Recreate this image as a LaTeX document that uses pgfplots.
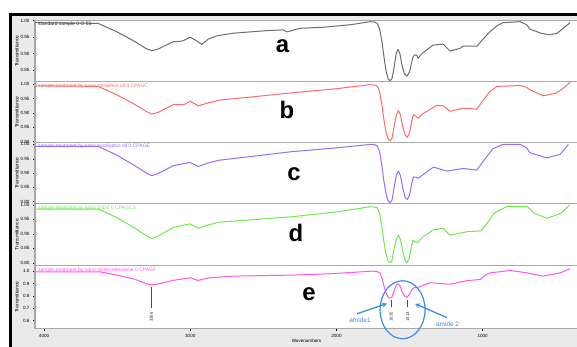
\documentclass[border=0pt]{standalone}
\usepackage{pgfplots}
\pgfplotsset{compat=1.18}
\usepackage{fontspec}
\setmainfont{Liberation Sans}
\usetikzlibrary{arrows.meta}
\definecolor{ca}{HTML}{6E6E6E}
\definecolor{cb}{HTML}{FF6A6A}
\definecolor{cc}{HTML}{9A6BFF}
\definecolor{cd}{HTML}{6CEB4C}
\definecolor{ce}{HTML}{FF55EE}
\definecolor{ann}{HTML}{3B8EE6}
\definecolor{bord}{HTML}{A9A9A9}
\definecolor{bg}{HTML}{EAEAEA}
\pgfplotsset{
 panel/.style={
  width=543bp, height=61bp, scale only axis, anchor=north west,
  xmin=348, xmax=4062, x dir=reverse,
  axis line style={draw=bord, line width=1.3bp},
  axis background/.style={fill=white},
  xtick=\empty,
  tick align=outside, major tick length=2bp,
  ytick pos=left,
  tick style={black, line width=0.4bp},
  /pgf/number format/assume math mode=true,
  yticklabel style={font=\fontsize{4.6}{5}\selectfont},
  /pgf/number format/fixed, /pgf/number format/fixed zerofill, /pgf/number format/precision=2,
  ylabel={Transmittance},
  ylabel style={font=\fontsize{5}{5}\selectfont, at={(axis description cs:-0.0332,0.5)}, anchor=center},
  clip mode=individual,
  every axis plot/.append style={line width=1bp, line join=round},
 }
}
\begin{document}
\begin{tikzpicture}
\path[use as bounding box] (0,0) rectangle (577bp,-347bp);
\fill[white] (0,0) rectangle (577bp,-347bp);
\fill[bg] (10bp,-14bp) rectangle (577bp,-347bp);
\draw[black, line width=3bp] (10bp,-347bp) -- (10bp,-14bp) -- (577bp,-14bp);

% panel a
\begin{axis}[panel, at={(35bp,-20.7bp)}, ymin=0.815, ymax=1.0, ytick={0.85,0.90,0.95,1.00}]
\addplot[ca] table {
4062 0.994
3631 0.992
3500 0.966
3380 0.937
3300 0.915
3263 0.909
3220 0.914
3118 0.936
3056 0.938
3001 0.950
2960 0.940
2921 0.928
2878 0.944
2819 0.954
2707 0.962
2475 0.970
2365 0.972
2338 0.966
2249 0.977
2092 0.980
1900 0.988
1770 0.997
1740 0.996
1722 0.992
1705 0.975
1690 0.940
1675 0.890
1660 0.845
1645 0.822
1633 0.818
1620 0.825
1605 0.860
1592 0.900
1579 0.913
1566 0.900
1552 0.865
1535 0.838
1517 0.832
1500 0.845
1488 0.870
1476 0.891
1460 0.897
1449 0.894
1442 0.886
1430 0.893
1408 0.903
1339 0.926
1271 0.929
1223 0.908
1155 0.916
1134 0.923
1038 0.923
1004 0.941
949 0.967
900 0.985
860 0.994
744 0.997
700 0.988
676 0.974
600 0.962
539 0.957
491 0.962
440 0.980
402 0.994
};
\end{axis}

% panel b
\begin{axis}[panel, at={(35bp,-81.7bp)}, ymin=0.796, ymax=1.0094, ytick={0.80,0.85,0.90,0.95,1.00}]
\addplot[cb] table {
4062 0.995
3629 0.993
3500 0.963
3380 0.930
3300 0.905
3263 0.896
3220 0.902
3116 0.929
3040 0.930
3001 0.941
2945 0.925
2880 0.935
2800 0.945
2600 0.955
2317 0.970
2000 0.985
1770 0.999
1740 0.998
1722 0.994
1705 0.975
1690 0.930
1675 0.875
1660 0.830
1645 0.807
1633 0.803
1620 0.812
1605 0.855
1590 0.895
1576 0.908
1562 0.893
1548 0.855
1530 0.823
1515 0.815
1500 0.830
1486 0.870
1474 0.894
1460 0.890
1440 0.882
1420 0.893
1400 0.900
1314 0.927
1269 0.925
1223 0.906
1132 0.917
1040 0.913
995 0.946
950 0.975
903 0.993
744 0.996
700 0.990
676 0.981
585 0.960
493 0.970
440 0.990
402 1.008
};
\end{axis}

% panel c
\begin{axis}[panel, at={(35bp,-142.7bp)}, ymin=0.793, ymax=1.006, ytick={0.80,0.85,0.90,0.95,1.00}]
\addplot[cc] table {
4062 0.993
3629 0.993
3500 0.962
3380 0.926
3300 0.900
3263 0.891
3220 0.898
3116 0.926
3001 0.937
2945 0.923
2880 0.935
2800 0.945
2317 0.974
2000 0.988
1770 1.000
1740 0.999
1722 0.995
1705 0.975
1690 0.928
1675 0.870
1660 0.825
1645 0.801
1633 0.797
1620 0.806
1605 0.852
1590 0.894
1576 0.907
1562 0.891
1548 0.850
1530 0.815
1515 0.808
1500 0.823
1486 0.862
1474 0.886
1460 0.886
1440 0.882
1337 0.921
1245 0.907
1132 0.916
1040 0.910
995 0.942
930 0.985
862 1.000
744 1.000
700 0.988
676 0.971
562 0.953
471 0.965
414 1.000
};
\end{axis}

% panel d
\begin{axis}[panel, at={(35bp,-203.7bp)}, height=62bp, ymin=0.790, ymax=1.0035, ytick={0.80,0.85,0.90,0.95,1.00}]
\addplot[cd] table {
4062 0.985
3629 0.985
3500 0.955
3380 0.920
3300 0.893
3263 0.884
3220 0.892
3116 0.922
3001 0.934
2945 0.919
2880 0.930
2800 0.940
2317 0.958
2000 0.975
1770 0.993
1740 0.992
1722 0.990
1705 0.970
1690 0.925
1675 0.870
1660 0.827
1645 0.804
1633 0.800
1620 0.808
1605 0.850
1590 0.884
1576 0.895
1562 0.880
1548 0.842
1530 0.808
1518 0.800
1502 0.815
1488 0.855
1476 0.878
1460 0.872
1449 0.868
1408 0.889
1339 0.913
1271 0.919
1223 0.895
1107 0.907
1011 0.910
970 0.936
922 0.971
833 0.994
696 0.994
648 0.971
559 0.953
464 0.971
402 1.000
};
\end{axis}

% panel e
\begin{axis}[panel, at={(35bp,-265.7bp)}, height=63bp, ymin=0.535, ymax=1.044,
  ytick={0.6,0.7,0.8,0.9,1.0},
  /pgf/number format/precision=1,
  xtick={1000,2000,3000,4000}, xtick pos=bottom,
  xticklabels={1000,2000,3000,4000},
  xticklabel style={font=\fontsize{4.6}{5}\selectfont},
  xlabel={Wavenumbers}, xlabel style={font=\fontsize{4.6}{5}\selectfont, at={(axis description cs:0.5,-0.19)}, anchor=center}]
\addplot[ce] table {
4062 0.995
3617 0.995
3500 0.968
3380 0.935
3300 0.898
3263 0.888
3220 0.897
3118 0.925
3001 0.947
2947 0.925
2880 0.945
2700 0.960
2300 0.968
2044 0.979
1750 1.000
1722 0.997
1702 0.985
1688 0.940
1675 0.880
1660 0.820
1645 0.788
1633 0.781
1620 0.792
1605 0.845
1590 0.888
1579 0.899
1565 0.880
1550 0.830
1532 0.797
1517 0.790
1500 0.812
1485 0.850
1470 0.866
1449 0.866
1360 0.906
1223 0.894
1107 0.923
1018 0.933
980 0.970
949 0.986
812 1.005
696 0.986
587 0.960
470 0.986
402 1.020
};
\draw[black!70, line width=0.5bp] (axis cs:3266,0.87) -- (axis cs:3266,0.706);
\draw[black!70, line width=0.5bp] (axis cs:1626,0.766) -- (axis cs:1626,0.712);
\draw[black!70, line width=0.5bp] (axis cs:1513,0.766) -- (axis cs:1513,0.712);
\node[rotate=90, font=\fontsize{4.3}{5}\selectfont, text=black!80] at (axis cs:3266,0.628) {3266};
\node[rotate=90, font=\fontsize{4.3}{5}\selectfont, text=black!80] at (axis cs:1626,0.632) {1626};
\node[rotate=90, font=\fontsize{4.3}{5}\selectfont, text=black!80] at (axis cs:1513,0.632) {1513};
\draw[ann, line width=1.2bp] (axis cs:1548,0.688) ellipse [x radius=22.5bp, y radius=29bp];
\draw[ann, line width=1.3bp, -{Stealth[length=5bp,width=5bp]}] (axis cs:1859,0.656) -- (axis cs:1654,0.738);
\draw[ann, line width=1.3bp, -{Stealth[length=5bp,width=5bp]}] (axis cs:1243,0.624) -- (axis cs:1462,0.736);
\node[text=ann, font=\fontsize{6.5}{7}\selectfont] at (axis cs:1839,0.600) {amide1};
\node[text=ann, font=\fontsize{6.5}{7}\selectfont] at (axis cs:1240,0.574) {amide 2};
\end{axis}

% panel titles
\node[anchor=west, inner sep=0, font=\fontsize{5}{5}\selectfont, text=black!85] at (38bp,-24bp) {standard sample 0 O 53};
\node[anchor=west, inner sep=0, font=\fontsize{5}{5}\selectfont, text=cb] at (38bp,-86bp) {sample treatment by nano cinnamon oil 0 CPAGC};
\node[anchor=west, inner sep=0, font=\fontsize{5}{5}\selectfont, text=cc] at (38bp,-146.7bp) {sample treatment by nano eucalyptus oil 0 CPAGE};
\node[anchor=west, inner sep=0, font=\fontsize{5}{5}\selectfont, text=cd] at (38bp,-208bp) {sample treatment by nano ZnO2 0 CPAGCS};
\node[anchor=west, inner sep=0, font=\fontsize{5}{5}\selectfont, text=ce] at (38bp,-270bp) {sample treatment by nano dichlorobenzene 0 CPAGF};

% big letters
\node[font=\fontsize{24}{24}\selectfont\bfseries] at (282.5bp,-46bp) {a};
\node[font=\fontsize{24}{24}\selectfont\bfseries] at (287bp,-110bp) {b};
\node[font=\fontsize{24}{24}\selectfont\bfseries] at (294bp,-174bp) {c};
\node[font=\fontsize{24}{24}\selectfont\bfseries] at (296bp,-233bp) {d};
\node[font=\fontsize{24}{24}\selectfont\bfseries] at (309bp,-294bp) {e};
\end{tikzpicture}
\end{document}
